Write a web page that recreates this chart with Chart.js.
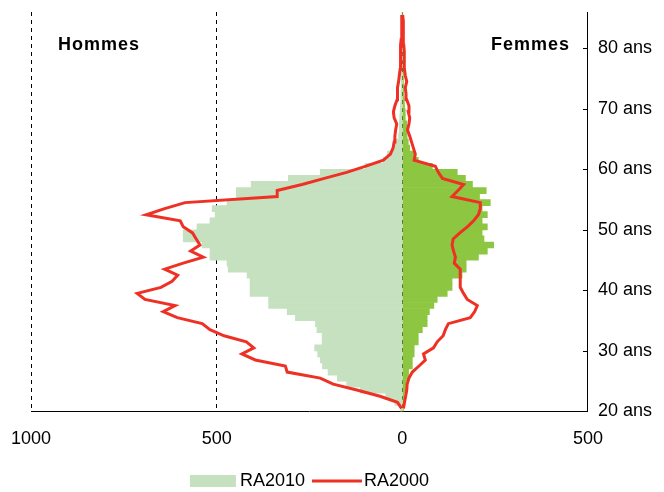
<!DOCTYPE html>
<html>
<head>
<meta charset="utf-8">
<script src="https://cdn.jsdelivr.net/npm/chart.js@4.4.0/dist/chart.umd.min.js"></script>
<style>
  html, body { margin: 0; padding: 0; background: #fff; }
  #wrap { width: 664px; height: 492px; }
</style>
</head>
<body>
<div id="wrap"><canvas id="pyramide"></canvas></div>
<script>
// ages 20 a 85
const ages = [20, 21, 22, 23, 24, 25, 26, 27, 28, 29,
  30, 31, 32, 33, 34, 35, 36, 37, 38, 39,
  40, 41, 42, 43, 44, 45, 46, 47, 48, 49,
  50, 51, 52, 53, 54, 55, 56, 57, 58, 59,
  60, 61, 62, 63, 64, 65, 66, 67, 68, 69,
  70, 71, 72, 73, 74, 75, 76, 77, 78, 79,
  80, 81, 82, 83, 84, 85];

const hommes2010 = [5, 20, 45, 113, 150, 175, 200, 215, 221, 228,
  236, 216, 216, 230, 234, 288, 310, 360, 360, 410,
  410, 410, 418, 469, 472, 518, 518, 539, 590, 590,
  553, 518, 504, 512, 472, 447, 447, 407, 307, 221,
  100, 51, 40, 24, 22, 10, 8, 8, 7, 6,
  5, 4, 4, 3, 3, 3, 2, 2, 2, 2,
  1, 1, 1, 1, 1, 1];

const femmes2010 = [3, 5, 5, 10, 10, 17, 17, 27, 27, 32,
  32, 43, 43, 54, 67, 67, 73, 85, 94, 121,
  134, 134, 161, 172, 172, 205, 229, 246, 220, 215,
  229, 215, 229, 215, 237, 208, 226, 189, 170, 148,
  81, 43, 35, 20, 16, 13, 13, 12, 8, 8,
  6, 5, 4, 4, 3, 3, 3, 2, 2, 2,
  2, 1, 1, 1, 1, 1];

const hommes2000 = [2, 13, 60, 120, 186, 221, 310, 315, 396, 432,
  400, 420, 480, 518, 539, 606, 644, 612, 693, 714,
  650, 620, 605, 640, 590, 536, 570, 545, 555, 565,
  590, 598, 690, 640, 585, 337, 337, 270, 210, 150,
  100, 51, 32, 25, 22, 20, 18, 15, 22, 24,
  20, 14, 12, 14, 10, 8, 6, 6, 5, 4,
  4, 3, 2, 2, 1, 1];

const femmes2000 = [3, 6, 9, 12, 13, 18, 27, 45, 62, 57,
  84, 94, 110, 116, 124, 183, 195, 202, 175, 165,
  156, 156, 156, 156, 140, 143, 138, 134, 137, 155,
  175, 192, 205, 210, 210, 134, 150, 165, 108, 97,
  89, 32, 35, 30, 25, 20, 14, 18, 20, 16,
  18, 12, 10, 8, 12, 8, 6, 6, 5, 5,
  4, 4, 3, 2, 2, 1];

const graduations = [20, 30, 40, 50, 60, 70, 80];

const vertClair = '#c5e1c0';
const vertFonce = '#8dc641';
const rouge = '#ee3124';

Chart.defaults.font.family = '"Liberation Sans", Arial, sans-serif';
Chart.defaults.color = '#000';

const textes = {
  id: 'textes',
  afterDraw(chart) {
    const { ctx, chartArea } = chart;
    ctx.save();
    ctx.fillStyle = '#000';
    ctx.textBaseline = 'middle';
    ctx.font = 'bold 18px "Liberation Sans", Arial, sans-serif';
    ctx.letterSpacing = '1px';
    ctx.textAlign = 'left';
    ctx.fillText('Hommes', chartArea.left + 27, 45);
    ctx.textAlign = 'right';
    ctx.fillText('Femmes', chartArea.right - 18, 45);

    // petits traits de graduation sur l'axe des ages
    const yAge = chart.scales.yAge;
    ctx.strokeStyle = '#000';
    ctx.lineWidth = 1;
    graduations.forEach(function (a) {
      const y = Math.round(yAge.getPixelForValue(a)) + 0.5;
      ctx.beginPath();
      ctx.moveTo(chartArea.right - 5, y);
      ctx.lineTo(chartArea.right, y);
      ctx.stroke();
    });

    // legende
    ctx.letterSpacing = '0px';
    ctx.font = '18px "Liberation Sans", Arial, sans-serif';
    ctx.textAlign = 'left';
    const w1 = ctx.measureText('RA2010').width;
    const w2 = ctx.measureText('RA2000').width;
    const total = 46 + 4 + w1 + 7 + 50 + 2 + w2;
    let x = (chartArea.left + chartArea.right) / 2 - total / 2;
    const y = 481;
    ctx.fillStyle = vertClair;
    ctx.fillRect(x, y - 6, 46, 12);
    x += 50;
    ctx.fillStyle = '#000';
    ctx.fillText('RA2010', x, y);
    x += w1 + 7;
    ctx.strokeStyle = rouge;
    ctx.lineWidth = 3;
    ctx.beginPath();
    ctx.moveTo(x, y);
    ctx.lineTo(x + 50, y);
    ctx.stroke();
    x += 52;
    ctx.fillText('RA2000', x, y);
    ctx.restore();
  }
};

const ctx = document.getElementById('pyramide');

new Chart(ctx, {
  data: {
    labels: ages,
    datasets: [{
      type: 'line',
      label: 'RA2000',
      indexAxis: 'y',
      data: hommes2000.map(v => -v),
      borderColor: rouge,
      borderWidth: 3,
      pointRadius: 0,
      fill: false,
      tension: 0,
      order: 0
    }, {
      type: 'line',
      label: 'RA2000 F',
      indexAxis: 'y',
      data: femmes2000,
      borderColor: rouge,
      borderWidth: 3,
      pointRadius: 0,
      fill: false,
      tension: 0,
      order: 0
    }, {
      type: 'bar',
      label: 'RA2010',
      data: hommes2010.map(v => -v),
      backgroundColor: vertClair,
      borderWidth: 0,
      grouped: false,
      barPercentage: 1,
      categoryPercentage: 1,
      order: 1
    }, {
      type: 'bar',
      label: 'RA2010 F',
      data: femmes2010,
      backgroundColor: vertFonce,
      borderWidth: 0,
      grouped: false,
      barPercentage: 1,
      categoryPercentage: 1,
      order: 1
    }]
  },
  options: {
    indexAxis: 'y',
    responsive: true,
    maintainAspectRatio: false,
    animation: false,
    layout: {
      padding: { left: 31, right: 2, top: 12, bottom: 25 }
    },
    plugins: {
      legend: { display: false },
      tooltip: { enabled: false }
    },
    scales: {
      x: {
        type: 'linear',
        min: -1000,
        max: 500,
        afterFit: function (scale) {
          scale.paddingLeft = 0;
          scale.paddingRight = 0;
        },
        ticks: {
          stepSize: 500,
          callback: v => Math.abs(v),
          font: { size: 18 },
          color: '#000',
          padding: 17
        },
        grid: {
          color: '#000',
          lineWidth: 1,
          drawTicks: false
        },
        border: {
          display: true,
          color: '#000',
          width: 1,
          dash: [4, 4]
        }
      },
      y: {
        type: 'category',
        reverse: true,
        display: false
      },
      yAge: {
        type: 'linear',
        position: 'right',
        min: 20,
        max: 86,
        afterFit: function (scale) {
          scale.paddingTop = 0;
          scale.paddingBottom = 0;
        },
        ticks: {
          stepSize: 10,
          includeBounds: false,
          callback: v => v + ' ans',
          font: { size: 18 },
          color: '#000',
          padding: 10
        },
        grid: {
          display: false,
          drawTicks: false
        },
        border: {
          display: true,
          color: '#000',
          width: 1
        }
      }
    }
  },
  plugins: [textes]
});
</script>
</body>
</html>
